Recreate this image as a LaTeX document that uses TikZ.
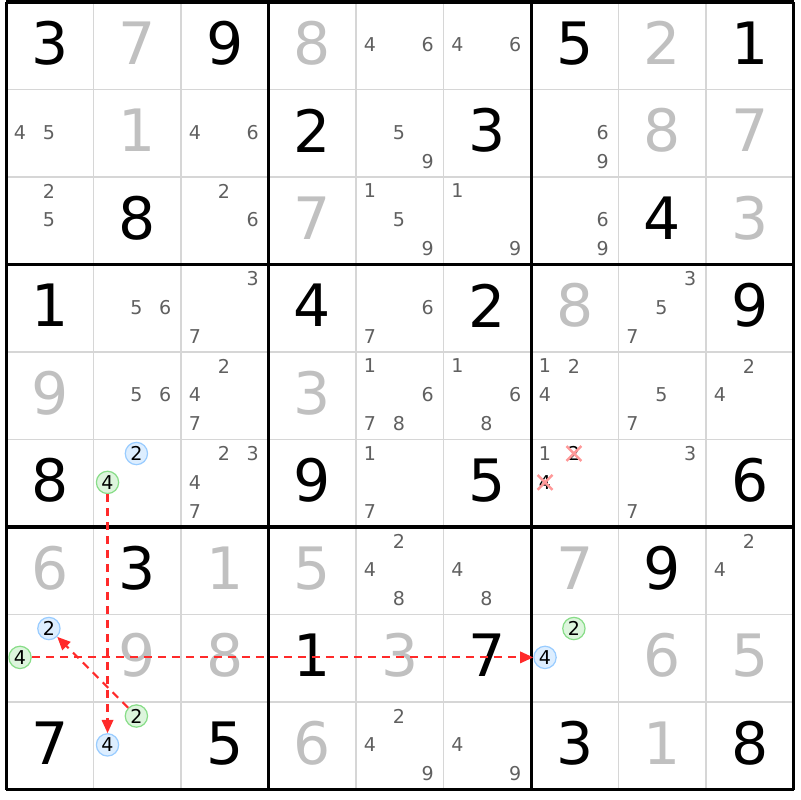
\documentclass[tikz,border=0pt]{standalone}
\usepackage{fontspec}
\setmainfont{DejaVu Sans}
\usetikzlibrary{arrows.meta}
\definecolor{solvedgray}{HTML}{C0C0C0}
\definecolor{candgray}{HTML}{606060}
\definecolor{gridgray}{HTML}{D6D6D6}
\definecolor{bluefill}{HTML}{DDEEFF}
\definecolor{blueline}{HTML}{99CCFF}
\definecolor{greenfill}{HTML}{DDF5DD}
\definecolor{greenline}{HTML}{88DD88}
\definecolor{linkred}{HTML}{FF2A2A}
\tikzset{
  given/.style={font=\fontsize{19}{19}\selectfont, inner sep=0pt},
  solved/.style={given, text=solvedgray},
  cand/.style={font=\fontsize{6.2}{6.2}\selectfont, text=candgray, inner sep=0pt},
  oncand/.style={cand, text=black, circle, minimum size=0.255cm, line width=0.4pt},
  bluecand/.style={oncand, draw=blueline, fill=bluefill},
  greencand/.style={oncand, draw=greenline, fill=greenfill},
  link/.style={draw=linkred, line width=0.7pt, dash pattern=on 0.09cm off 0.07cm,
    -{Triangle[length=0.15cm, width=0.13cm, fill=linkred]}},
}
% position of candidate #3 in cell (#1,#2)
\newcommand{\cpos}[3]{({#1-1+0.16+0.33*mod(#3-1,3)},{#2-1+0.16+0.33*floor((#3-1)/3)})}
\begin{document}
\begin{tikzpicture}[x=1cm, y=-1cm]
			\useasboundingbox (-0.069,-0.023) rectangle (9.074,9.12);
			\foreach \i in {1,...,8}
			\draw[gridgray, line width=0.6pt] (\i,0)--(\i,9) (0,\i)--(9,\i);
			\foreach \i in {0,3,6,9}
			\draw[line width=1pt] (\i,0)--(\i,9) (0,\i)--(9,\i);
			% givens and solved cells
			\foreach \c/\r/\d in {1/1/3, 3/1/9, 7/1/5, 9/1/1, 4/2/2, 6/2/3, 2/3/8, 8/3/4,
				1/4/1, 4/4/4, 6/4/2, 9/4/9, 1/6/8, 4/6/9, 6/6/5, 9/6/6, 2/7/3, 8/7/9,
				4/8/1, 6/8/7, 1/9/7, 3/9/5, 7/9/3, 9/9/8}
			\node[given] at (\c-0.5,\r-0.53) {\d};
			\foreach \c/\r/\d in {2/1/7, 4/1/8, 8/1/2, 2/2/1, 8/2/8, 9/2/7, 4/3/7, 9/3/3,
				7/4/8, 1/5/9, 4/5/3, 1/7/6, 3/7/1, 4/7/5, 7/7/7, 2/8/9, 3/8/8, 5/8/3,
				8/8/6, 9/8/5, 4/9/6, 8/9/1}
			\node[solved] at (\c-0.5,\r-0.53) {\d};
			% candidates
			\foreach \c/\r/\ds in {5/1/{4,6}, 6/1/{4,6}, 1/2/{4,5}, 3/2/{4,6}, 5/2/{5,9},
				7/2/{6,9}, 1/3/{2,5}, 3/3/{2,6}, 5/3/{1,5,9}, 6/3/{1,9}, 7/3/{6,9},
				2/4/{5,6}, 3/4/{3,7}, 5/4/{6,7}, 8/4/{3,5,7}, 2/5/{5,6}, 3/5/{2,4,7},
				5/5/{1,6,7,8}, 6/5/{1,6,8}, 7/5/{1,2,4}, 8/5/{5,7}, 9/5/{2,4},
				3/6/{2,3,4,7}, 5/6/{1,7}, 7/6/{1}, 8/6/{3,7}, 5/7/{2,4,8}, 6/7/{4,8},
				9/7/{2,4}, 5/9/{2,4,9}, 6/9/{4,9}}
			\foreach \d in \ds
			\node[cand] at \cpos{\c}{\r}{\d} {\d};
			% eliminated
			\foreach \d in {2,4} {
				\node[cand, text=black] (x\d) at \cpos{7}{6}{\d} {\d};
				\draw[red!40, line width=0.8pt] (x\d.center) ++(-0.085,-0.085) -- ++(0.17,0.17)
					(x\d.center) ++(-0.085,0.085) -- ++(0.17,-0.17);
			}
			% chain
			\node[bluecand] (r6c2-2) at \cpos{2}{6}{2} {2};
			\node[greencand] (r6c2-4) at \cpos{2}{6}{4} {4};
			\node[bluecand] (r8c1-2) at \cpos{1}{8}{2} {2};
			\node[greencand] (r8c1-4) at \cpos{1}{8}{4} {4};
			\node[greencand] (r8c7-2) at \cpos{7}{8}{2} {2};
			\node[bluecand] (r8c7-4) at \cpos{7}{8}{4} {4};
			\node[greencand] (r9c2-2) at \cpos{2}{9}{2} {2};
			\node[bluecand] (r9c2-4) at \cpos{2}{9}{4} {4};
			\draw[link] (r6c2-4)--(r9c2-4);
			\draw[link] (r8c1-4)--(r8c7-4);
			\draw[link] (r9c2-2)--(r8c1-2);
		\end{tikzpicture}
\end{document}
